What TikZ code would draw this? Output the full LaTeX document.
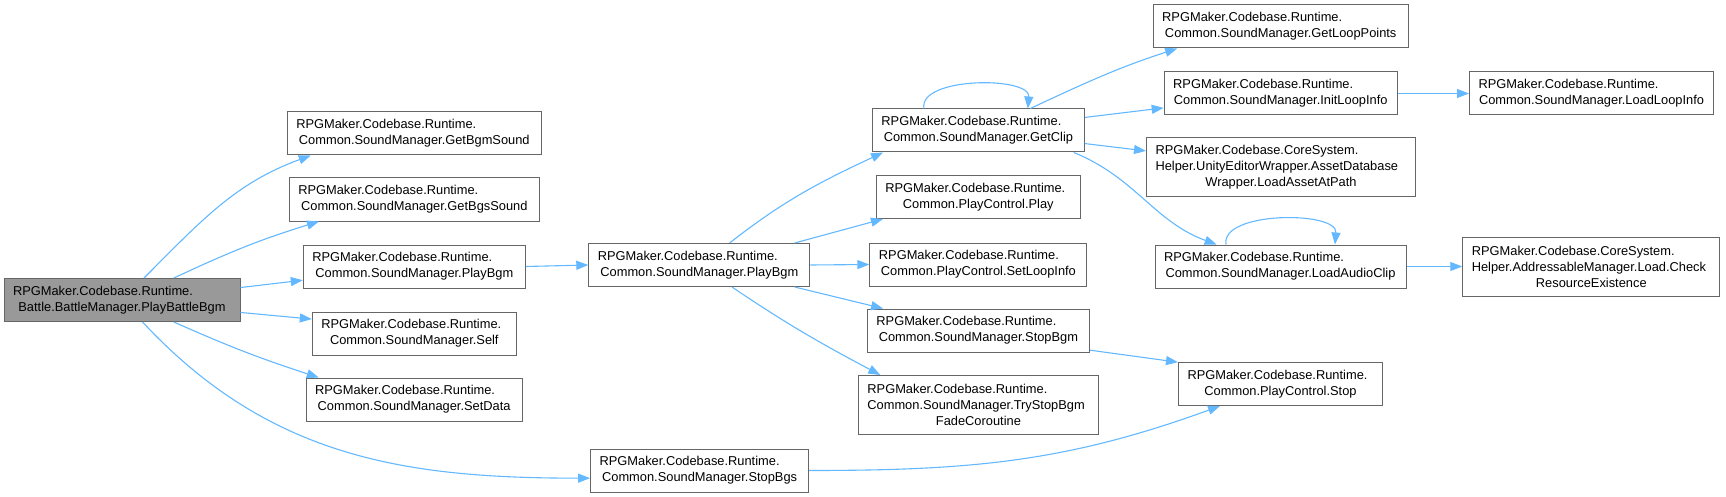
\documentclass[tikz,border=0pt]{standalone}
\usepackage{fontspec}
\setmainfont{Liberation Sans}
\usetikzlibrary{arrows.meta}
\definecolor{edgeblue}{HTML}{63B8FF}
\definecolor{boxgray}{HTML}{666666}
\definecolor{curgray}{HTML}{999999}
\newcommand{\lline}[1]{\noindent\hbox to\hsize{#1\hfil}}

\begin{document}
\begin{tikzpicture}[x=1pt, y=-1pt,
  fn/.style={draw=boxgray, line width=1pt, fill=white, text width=#1, align=center, inner xsep=9pt, inner ysep=2pt, minimum height=43pt, font=\fontsize{12.85}{16}\selectfont},
  cur/.style={fill=curgray},
  tall/.style={minimum height=59pt},
  call/.style={-{Triangle[length=12pt,width=9pt]}, line width=1.1pt, draw=edgeblue}
]
\useasboundingbox (0,0) rectangle (1726,497);

\node[fn=218pt, cur] (root) at (122,300) {\lline{RPGMaker.Codebase.Runtime.}\\Battle.BattleManager.PlayBattleBgm};

\node[fn=236pt] (getbgm) at (414.3,133.5) {\lline{RPGMaker.Codebase.Runtime.}\\Common.SoundManager.GetBgmSound};
\node[fn=232pt] (getbgs) at (414.3,199.5) {\lline{RPGMaker.Codebase.Runtime.}\\Common.SoundManager.GetBgsSound};
\node[fn=204pt] (playbgma) at (414.3,266.5) {\lline{RPGMaker.Codebase.Runtime.}\\Common.SoundManager.PlayBgm};
\node[fn=186pt] (self) at (414.3,333.5) {\lline{RPGMaker.Codebase.Runtime.}\\Common.SoundManager.Self};
\node[fn=198pt] (setdata) at (414.1,399.5) {\lline{RPGMaker.Codebase.Runtime.}\\Common.SoundManager.SetData};

\node[fn=203pt] (playbgmb) at (699.3,265) {\lline{RPGMaker.Codebase.Runtime.}\\Common.SoundManager.PlayBgm};
\node[fn=200pt] (stopbgs) at (699.6,470.5) {\lline{RPGMaker.Codebase.Runtime.}\\Common.SoundManager.StopBgs};

\node[fn=194pt] (getclip) at (978.4,130.5) {\lline{RPGMaker.Codebase.Runtime.}\\Common.SoundManager.GetClip};
\node[fn=186pt] (play) at (978.3,197) {\lline{RPGMaker.Codebase.Runtime.}\\Common.PlayControl.Play};
\node[fn=199pt] (setloopinfo) at (978.4,264.5) {\lline{RPGMaker.Codebase.Runtime.}\\Common.PlayControl.SetLoopInfo};
\node[fn=204pt] (stopbgm) at (978.4,330.5) {\lline{RPGMaker.Codebase.Runtime.}\\Common.SoundManager.StopBgm};
\node[fn=222pt, tall] (trystop) at (978.4,405) {\lline{RPGMaker.Codebase.Runtime.}\\\lline{Common.SoundManager.TryStopBgm}\\FadeCoroutine};

\node[fn=237pt] (getlooppoints) at (1280.7,26.5) {\lline{RPGMaker.Codebase.Runtime.}\\Common.SoundManager.GetLoopPoints};
\node[fn=215pt] (initloopinfo) at (1280.7,93.5) {\lline{RPGMaker.Codebase.Runtime.}\\Common.SoundManager.InitLoopInfo};
\node[fn=251pt, tall] (assetdb) at (1281,167.5) {\lline{RPGMaker.Codebase.CoreSystem.}\\\lline{Helper.UnityEditorWrapper.AssetDatabase}\\Wrapper.LoadAssetAtPath};
\node[fn=233pt] (loadaudioclip) at (1280.5,266.5) {\lline{RPGMaker.Codebase.Runtime.}\\Common.SoundManager.LoadAudioClip};
\node[fn=186pt] (pcstop) at (1280.5,384) {\lline{RPGMaker.Codebase.Runtime.}\\Common.PlayControl.Stop};

\node[fn=226pt] (loadloopinfo) at (1591.5,93.5) {\lline{RPGMaker.Codebase.Runtime.}\\Common.SoundManager.LoadLoopInfo};
\node[fn=239pt, tall] (checkres) at (1591.3,266.5) {\lline{RPGMaker.Codebase.CoreSystem.}\\\lline{Helper.AddressableManager.Load.Check}\\ResourceExistence};

% calls from PlayBattleBgm
\draw[call] (root.45) to[out=45,in=200] (getbgm.192);
\draw[call] (root.23) to[out=25,in=197] (getbgs.193);
\draw[call] (root.6) -- (playbgma.187);
\draw[call] (root.-6) -- (self.172);
\draw[call] (root.-23) to[out=-24,in=162] (setdata.167);
\draw[call] (root.-47) to[out=-47,in=180] (stopbgs.184);

% calls from PlayBgm
\draw[call] (playbgma.east) -- (playbgmb.west);
\draw[call] (playbgmb.36) to[out=38,in=205] (getclip.193);
\draw[call] (playbgmb.13) -- (play.193);
\draw[call] (playbgmb.east) -- (setloopinfo.west);
\draw[call] (playbgmb.-13) -- (stopbgm.167);
\draw[call] (playbgmb.-34) to[out=-34,in=152] (trystop.163);

\draw[call] (stopbgs.east) to[out=0,in=200] (pcstop.200);
\draw[call] (stopbgm.-10) -- (pcstop.168);

% calls from GetClip
\draw[call] (getclip.158) to[out=100,in=85,looseness=0.8] (getclip.24);
\draw[call] (getclip.23) to[out=25,in=198] (getlooppoints.192);
\draw[call] (getclip.7) -- (initloopinfo.187);
\draw[call] (getclip.-7) -- (assetdb.173);
\draw[call] (getclip.-13) to[out=-22,in=160] (loadaudioclip.161);

\draw[call] (initloopinfo.east) -- (loadloopinfo.west);
\draw[call] (loadaudioclip.158) to[out=100,in=85,looseness=0.8] (loadaudioclip.22);
\draw[call] (loadaudioclip.east) -- (checkres.west);
\end{tikzpicture}
\end{document}
